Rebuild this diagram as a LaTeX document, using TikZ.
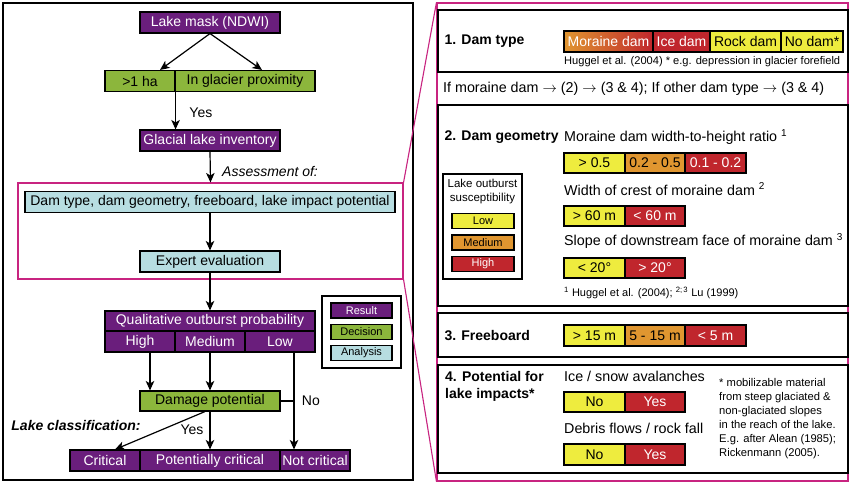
\documentclass[tikz,border=0pt]{standalone}
\usepackage{fontspec}
\setmainfont{Liberation Sans}
\usetikzlibrary{arrows.meta}

\newlength{\du}
\setlength{\du}{1pt}
\newcommand{\fsz}[1]{\fontsize{#1}{#1}\selectfont}

\definecolor{respurple}{RGB}{106,30,124}
\definecolor{decgreen}{RGB}{140,182,60}
\definecolor{anablue}{RGB}{183,221,225}
\definecolor{susyellow}{RGB}{238,236,62}
\definecolor{susorange}{RGB}{224,150,48}
\definecolor{susred}{RGB}{192,38,45}
\definecolor{zoommag}{RGB}{200,36,128}

\tikzset{
  cell/.style={draw=black, line width=1.1\du, inner sep=0pt, minimum height=21\du, font=\fsz{14}},
  result/.style={cell, fill=respurple, text=white},
  decision/.style={cell, fill=decgreen},
  analysis/.style={cell, fill=anablue},
  ylw/.style={cell, fill=susyellow},
  org/.style={cell, fill=susorange},
  rd/.style={cell, fill=susred, text=white},
  keybox/.style={draw=black, line width=1.1\du, inner sep=0pt, minimum height=15\du, font=\fsz{11}},
  flow/.style={-{Stealth[length=9.5pt,width=8.5pt,inset=2.5pt]}, line width=1.2\du},
  frame/.style={draw=black, line width=1.1\du, inner sep=0pt},
  magline/.style={draw=zoommag, line width=1.1\du},
  head/.style={anchor=west, font=\fsz{14}\bfseries},
  txt/.style={anchor=west, font=\fsz{14.3}, inner sep=0pt},
}

\begin{document}
\begin{tikzpicture}
\pgftransformyscale{-1.000000}
\useasboundingbox[fill=white] (0\du,0\du) rectangle (850\du,483\du);

% left panel: flow chart
\draw[frame] (3\du,3\du) rectangle (413\du,480\du);
\node[result, minimum width=140\du] (mask) at (210\du,22.5\du) {Lake mask (NDWI)};
\node[decision, minimum width=70\du] (ha) at (140\du,81\du) {>1 ha};
\node[decision, minimum width=140\du] (prox) at (245\du,81\du) {In glacier proximity};
\node[result, minimum width=140\du] (inv) at (210\du,140.5\du) {Glacial lake inventory};
\node[magline, inner sep=0pt, minimum width=385\du, minimum height=96\du] (focus) at (210.5\du,231\du) {};
\node[analysis, minimum width=370\du] (assess) at (210\du,202\du) {Dam type, dam geometry, freeboard, lake impact potential};
\node[analysis, minimum width=140\du] (expert) at (210\du,261.5\du) {Expert evaluation};
\node[result, minimum width=210\du, minimum height=20\du] (qual) at (210\du,321\du) {Qualitative outburst probability};
\node[result, minimum width=70\du] (high) at (140\du,341.5\du) {High};
\node[result, minimum width=70\du] (med) at (210\du,341.5\du) {Medium};
\node[result, minimum width=70\du] (low) at (280\du,341.5\du) {Low};
\node[decision, minimum width=140\du, minimum height=20\du] (damage) at (210\du,401\du) {Damage potential};
\node[result, minimum width=70\du] (crit) at (105\du,460.5\du) {Critical};
\node[result, minimum width=140\du] (pot) at (210\du,460.5\du) {Potentially critical};
\node[result, minimum width=70\du] (notc) at (315\du,460.5\du) {Not critical};

\draw[flow] (mask.south) -- ([xshift=20pt]ha.north);
\draw[flow] (mask.south) -- ([xshift=17pt]prox.north);
\draw[flow] (ha.south east) -- (ha.south east |- inv.north)
  node[midway, right, xshift=10pt, yshift=-2pt, font=\fsz{14}] (yes1) {Yes};
\draw[flow] (inv.south) -- (focus.north)
  node[midway, right, xshift=8pt, yshift=-4pt, font=\fsz{14}\itshape] (assessof) {Assessment of:};
\draw[flow] (assess.south) -- (expert.north);
\draw[flow] (expert.south) -- (qual.north);
\draw[flow] ([xshift=10pt]high.south) -- ([xshift=10pt]high.south |- damage.north);
\draw[flow] (med.south) -- (damage.north);
\coordinate (lowdrop) at ([xshift=14pt]low.south);
\draw[flow] (lowdrop) -- (lowdrop |- notc.north);
\draw[line width=1.2\du] (damage.east) -- (damage.east -| lowdrop)
  node[right, xshift=4pt, font=\fsz{14}] (no) {No};
\draw[flow] ([xshift=-5pt]damage.south) -- ([xshift=10pt]crit.north);
\draw[flow] (damage.south) -- (pot.north);
\node[font=\fsz{14}] (yes2) at (192\du,430\du) {Yes};
\node[font=\fsz{14}\bfseries\itshape] (lakeclass) at (76\du,425\du) {Lake classification:};

% legend
\node[frame, minimum width=79\du, minimum height=72\du] (legend) at (361.5\du,332\du) {};
\node[keybox, fill=respurple, text=white, minimum width=61\du] (kres) at (361.5\du,310.5\du) {Result};
\node[keybox, fill=decgreen, minimum width=61\du] (kdec) at (361.5\du,332\du) {Decision};
\node[keybox, fill=anablue, minimum width=61\du] (kana) at (361.5\du,353\du) {Analysis};

% right panel: zoom of the assessment
\node[magline, inner sep=0pt, minimum width=411\du, minimum height=478\du] (zoomR) at (642.5\du,242\du) {};
\draw[magline] (focus.north east) -- (zoomR.north west);
\draw[magline] (focus.south east) -- (zoomR.south west);
\draw[frame] (438\du,10\du) rectangle (848\du,72\du);
\draw[frame] (438\du,105\du) rectangle (848\du,306\du);
\draw[frame] (438\du,313\du) rectangle (848\du,357\du);
\draw[frame] (438\du,365\du) rectangle (848\du,473\du);

% 1. dam type
\node[head] (h1) at (441\du,41\du) {1. Dam type};
\node[cell, left color=susorange, right color=susred, text=white, minimum width=89\du] (moraine) at (608.5\du,41.5\du) {Moraine dam};
\node[rd, minimum width=57\du] (ice) at (681.5\du,41.5\du) {Ice dam};
\node[ylw, minimum width=71\du] (rock) at (745.5\du,41.5\du) {Rock dam};
\node[ylw, minimum width=62\du] (nodam) at (812\du,41.5\du) {No dam*};
\node[anchor=west, inner sep=0pt, font=\fsz{11.1}] (ref1) at (564\du,62\du) {Huggel et al. (2004) * e.g. depression in glacier forefield};
\node[txt] (ifline) at (443\du,88.5\du) {If moraine dam $\rightarrow$ (2) $\rightarrow$ (3 \& 4); If other dam type $\rightarrow$ (3 \& 4)};

% 2. dam geometry
\node[head] (h2) at (441\du,137\du) {2. Dam geometry};
\node[txt] (ratio) at (564\du,137\du) {Moraine dam width-to-height ratio \textsuperscript{1}};
\node[ylw, minimum width=61\du, minimum height=20\du] (r1) at (594.5\du,163\du) {> 0.5};
\node[org, minimum width=60\du, minimum height=20\du] (r2) at (655\du,163\du) {0.2 - 0.5};
\node[rd, minimum width=61\du, minimum height=20\du] (r3) at (715.5\du,163\du) {0.1 - 0.2};
\node[txt] (crest) at (564\du,189\du) {Width of crest of moraine dam \textsuperscript{2}};
\node[ylw, minimum width=61\du, minimum height=20\du] (c1) at (594.5\du,216\du) {> 60 m};
\node[rd, minimum width=60\du, minimum height=20\du] (c2) at (655\du,216\du) {< 60 m};
\node[txt] (slope) at (564\du,241\du) {Slope of downstream face of moraine dam \textsuperscript{3}};
\node[ylw, minimum width=61\du, minimum height=20\du] (s1) at (594.5\du,268\du) {< 20°};
\node[rd, minimum width=60\du, minimum height=20\du] (s2) at (655\du,268\du) {> 20°};
\node[anchor=west, inner sep=0pt, font=\fsz{11}] (ref2) at (564\du,293\du) {\textsuperscript{1} Huggel et al. (2004); \textsuperscript{2;\,3} Lu (1999)};

% susceptibility key
\node[frame, minimum width=79\du, minimum height=105\du] (suskey) at (482.5\du,226.5\du) {};
\node[align=center, font=\fontsize{11.5}{13.5}\selectfont] (sustitle) at (482.5\du,191.5\du) {Lake outburst\\susceptibility};
\node[keybox, fill=susyellow, minimum width=62\du] (klow) at (483\du,221\du) {Low};
\node[keybox, fill=susorange, minimum width=62\du] (kmed) at (483\du,242.5\du) {Medium};
\node[keybox, fill=susred, text=white, minimum width=62\du] (khigh) at (483\du,264\du) {High};

% 3. freeboard
\node[head] (h3) at (441\du,335\du) {3. Freeboard};
\node[ylw, minimum width=61\du] (f1) at (594.5\du,335.5\du) {> 15 m};
\node[org, minimum width=60\du] (f2) at (655\du,335.5\du) {5 - 15 m};
\node[rd, minimum width=61\du] (f3) at (715.5\du,335.5\du) {< 5 m};

% 4. lake impacts
\node[anchor=north west, align=left, inner sep=0pt, font=\fontsize{14}{17.5}\selectfont\bfseries] (h4) at (445\du,371\du) {4. Potential for\\lake impacts*};
\node[txt] (aval) at (564\du,376\du) {Ice / snow avalanches};
\node[ylw, minimum width=61\du, minimum height=20\du] (a1) at (594.5\du,402\du) {No};
\node[rd, minimum width=60\du, minimum height=20\du] (a2) at (655\du,402\du) {Yes};
\node[txt] (debris) at (564\du,428\du) {Debris flows / rock fall};
\node[ylw, minimum width=61\du] (d1) at (594.5\du,454.5\du) {No};
\node[rd, minimum width=60\du] (d2) at (655\du,454.5\du) {Yes};
\node[anchor=north west, align=left, inner sep=0pt, font=\fontsize{11.2}{14}\selectfont] (mobil) at (719\du,378\du) {* mobilizable material\\from steep glaciated \&\\non-glaciated slopes\\in the reach of the lake.\\E.g. after Alean (1985);\\Rickenmann (2005).};
\end{tikzpicture}
\end{document}
